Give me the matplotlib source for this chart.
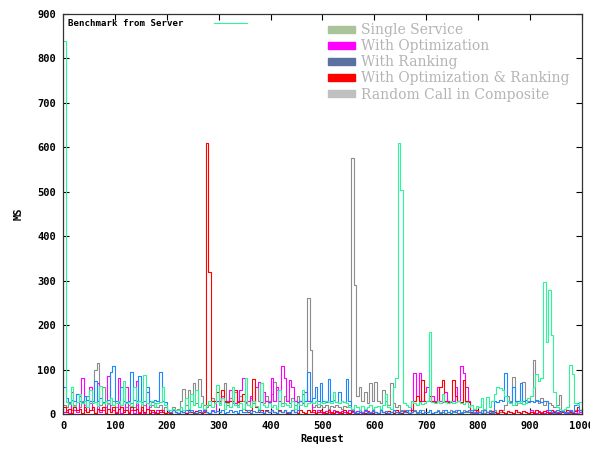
import matplotlib
matplotlib.use("Agg")
import matplotlib.pyplot as plt
import matplotlib.patches as mpatches
import numpy as np

# Response time (MS) per request, every 5 requests (0..1000)
requests = np.arange(0, 1001, 5)

benchmark = [
    840, 28, 22, 60, 18, 28, 45, 25, 30, 15, 55, 25, 28, 18, 62, 25, 30, 22, 35, 20,
    25, 30, 20, 75, 25, 28, 18, 60, 25, 30, 22, 88, 25, 20, 30, 15, 25, 28, 60, 20,
    10, 8, 12, 10, 8, 15, 10, 35, 12, 45, 20, 55, 15, 25, 12, 20, 30, 15, 25, 65,
    20, 35, 12, 25, 15, 60, 20, 15, 25, 12, 80, 20, 15, 30, 18, 12, 70, 20, 15, 25,
    15, 20, 12, 55, 18, 25, 20, 15, 30, 12, 25, 20, 55, 18, 25, 28, 25, 30, 22, 28,
    25, 30, 28, 25, 50, 28, 25, 30, 28, 25, 15, 12, 20, 15, 10, 18, 12, 15, 20, 12,
    15, 18, 12, 20, 45, 15, 12, 60, 80, 610, 505, 25, 20, 15, 30, 25, 20, 28, 22, 25,
    30, 185, 28, 25, 30, 25, 45, 28, 25, 30, 25, 28, 30, 25, 22, 28, 15, 20, 12, 18,
    15, 35, 12, 38, 15, 30, 45, 60, 58, 55, 40, 30, 25, 20, 28, 25, 30, 22, 25, 35,
    40, 60, 90, 75, 80, 297, 163, 279, 178, 50, 15, 12, 10, 12, 15, 110, 90, 25, 20, 28,
    20,
]
ranking = [
    60, 35, 28, 32, 30, 45, 30, 28, 40, 32, 30, 30, 75, 30, 35, 28, 30, 32, 95, 108,
    30, 28, 60, 30, 28, 30, 95, 32, 30, 85, 28, 30, 60, 30, 28, 32, 30, 95, 30, 28,
    10, 5, 8, 5, 3, 6, 5, 8, 5, 10, 5, 3, 8, 5, 6, 5, 3, 8, 5, 6,
    5, 8, 3, 5, 10, 5, 6, 3, 8, 5, 5, 10, 3, 6, 5, 8, 5, 3, 6, 5,
    8, 5, 3, 6, 5, 10, 5, 3, 8, 5, 8, 30, 45, 30, 95, 30, 35, 60, 30, 70,
    30, 28, 78, 30, 32, 28, 50, 30, 28, 78, 30, 10, 5, 3, 8, 5, 6, 3, 5, 8,
    5, 3, 8, 5, 6, 3, 5, 8, 5, 3, 6, 5, 8, 3, 5, 6, 5, 8, 3, 5,
    5, 8, 3, 5, 6, 3, 5, 8, 5, 3, 6, 5, 8, 3, 5, 6, 5, 8, 3, 5,
    5, 3, 8, 5, 6, 3, 30, 28, 32, 30, 93, 30, 28, 60, 30, 30, 70, 30, 32, 28,
    30, 28, 32, 30, 28, 30, 30, 10, 5, 3, 8, 5, 6, 3, 5, 8, 5, 20, 25, 10,
    5,
]
optimization = [
    5, 10, 3, 50, 8, 5, 40, 80, 10, 5, 60, 8, 3, 70, 5, 10, 3, 85, 5, 8,
    5, 80, 3, 10, 60, 5, 8, 3, 75, 5, 10, 3, 50, 8, 5, 3, 10, 5, 8, 3,
    5, 3, 8, 5, 3, 6, 5, 3, 8, 5, 3, 6, 5, 3, 8, 5, 3, 6, 5, 30,
    30, 40, 28, 30, 55, 30, 25, 30, 55, 80, 28, 30, 40, 30, 60, 71, 28, 50, 30, 28,
    80, 30, 60, 30, 108, 80, 30, 77, 60, 30, 28, 30, 25, 50, 30, 28, 5, 3, 8, 5,
    3, 6, 5, 3, 8, 5, 3, 6, 5, 3, 8, 5, 3, 6, 5, 3, 8, 5, 3, 6,
    5, 3, 8, 5, 3, 6, 5, 3, 8, 5, 3, 6, 5, 3, 30, 93, 40, 93, 30, 50,
    61, 30, 40, 30, 61, 30, 28, 50, 30, 28, 30, 60, 30, 108, 93, 60, 30, 5, 8, 3,
    5, 3, 8, 5, 3, 6, 5, 3, 8, 5, 3, 6, 5, 3, 8, 5, 3, 6, 5, 3,
    8, 5, 3, 6, 5, 3, 8, 5, 3, 6, 5, 3, 8, 5, 3, 6, 5, 3, 8, 5,
    3,
]
opt_ranking = [
    15, 5, 12, 3, 15, 8, 12, 3, 15, 5, 10, 15, 3, 12, 8, 15, 3, 12, 5, 15,
    3, 12, 15, 5, 10, 3, 15, 8, 12, 3, 15, 5, 12, 3, 10, 5, 3, 8, 5, 3,
    5, 3, 8, 5, 3, 6, 5, 3, 8, 5, 3, 6, 5, 3, 5, 610, 320, 30, 30, 50,
    30, 54, 30, 28, 30, 30, 54, 28, 30, 45, 10, 5, 8, 78, 15, 5, 10, 3, 10, 5,
    8, 5, 3, 10, 5, 8, 3, 5, 10, 5, 3, 8, 5, 3, 10, 5, 8, 3, 5, 10,
    5, 3, 8, 5, 3, 6, 5, 3, 8, 5, 3, 6, 5, 3, 8, 5, 3, 6, 5, 3,
    5, 3, 8, 5, 3, 6, 5, 3, 8, 5, 3, 6, 5, 3, 8, 30, 40, 30, 77, 30,
    30, 40, 30, 28, 30, 60, 77, 30, 28, 30, 77, 40, 30, 28, 77, 30, 28, 5, 3, 8,
    5, 3, 8, 5, 3, 6, 5, 3, 8, 5, 3, 6, 5, 3, 8, 5, 3, 6, 5, 3,
    5, 3, 8, 5, 3, 6, 5, 3, 8, 5, 3, 6, 5, 3, 8, 5, 3, 6, 15, 10,
    5,
]
random_call = [
    20, 15, 25, 10, 20, 45, 15, 30, 20, 40, 25, 30, 99, 114, 20, 60, 15, 25, 20, 30,
    15, 25, 20, 30, 15, 20, 25, 15, 20, 30, 15, 20, 25, 15, 20, 25, 15, 20, 10, 15,
    10, 8, 15, 10, 12, 30, 56, 20, 54, 30, 70, 25, 79, 40, 20, 15, 20, 35, 25, 30,
    25, 40, 70, 20, 35, 25, 50, 20, 40, 30, 25, 20, 35, 25, 60, 30, 70, 25, 40, 30,
    45, 73, 54, 30, 25, 40, 30, 25, 35, 20, 40, 30, 25, 30, 260, 145, 15, 20, 15, 20,
    15, 20, 12, 18, 15, 20, 15, 12, 18, 15, 20, 575, 290, 40, 60, 30, 50, 25, 70, 30,
    73, 30, 25, 54, 30, 20, 70, 25, 15, 20, 10, 8, 5, 10, 5, 8, 3, 5, 8, 5,
    5, 8, 3, 5, 10, 5, 8, 3, 5, 10, 5, 8, 3, 5, 10, 5, 8, 3, 5, 10,
    5, 8, 3, 5, 10, 5, 8, 3, 5, 10, 20, 40, 30, 84, 20, 30, 25, 73, 25, 30,
    40, 122, 30, 25, 35, 20, 30, 25, 20, 15, 20, 43, 10, 5, 8, 3, 5, 8, 3, 5,
    5,
]

legend_labels = ["Single Service", "With Optimization", "With Ranking",
                 "With Optimization & Ranking", "Random Call in Composite"]
legend_colors = ["#a8c498", "#ff00ff", "#5b6fa0", "#ff0000", "#c0c0c0"]

MONO = "DejaVu Sans Mono"

fig = plt.figure(figsize=(5.9, 4.53), dpi=100)
ax = fig.add_axes([0.1068, 0.0861, 0.8796, 0.8829])

lw = 0.8
ax.plot(requests, random_call, drawstyle="steps-post", color="#8c8c8c", lw=lw)
ax.plot(requests, optimization, drawstyle="steps-post", color="#ff00ff", lw=lw)
ax.plot(requests, opt_ranking, drawstyle="steps-post", color="#ff0000", lw=lw)
ax.plot(requests, ranking, drawstyle="steps-post", color="#1e86ff", lw=lw)
bench_line, = ax.plot(requests, benchmark, drawstyle="steps-post",
                      color="#2cf59a", lw=lw, label="Benchmark from Server")

ax.set_xlim(0, 1000)
ax.set_ylim(0, 900)
ax.set_xticks(np.arange(0, 1001, 100))
ax.set_yticks(np.arange(0, 901, 100))
ax.tick_params(direction="in", top=True, right=True, length=4, width=0.8,
               labelsize=7.5, pad=5)
for lab in ax.get_xticklabels() + ax.get_yticklabels():
    lab.set_fontfamily(MONO)
    lab.set_fontweight("bold")
for sp in ax.spines.values():
    sp.set_linewidth(0.9)
    sp.set_color("#333333")

ax.set_xlabel("Request", fontfamily=MONO, fontweight="bold", fontsize=7.5, labelpad=2)
ax.set_ylabel("MS", fontfamily=MONO, fontweight="bold", fontsize=7.5, labelpad=10)

leg1 = ax.legend(handles=[bench_line], loc="upper left", frameon=False,
                 markerfirst=False, handlelength=3.6, handletextpad=3.3,
                 prop={"family": MONO, "weight": "bold", "size": 6.6},
                 borderaxespad=0.15, bbox_to_anchor=(0.0, 1.0))
ax.add_artist(leg1)

patches = [mpatches.Patch(color=c, label=l) for c, l in zip(legend_colors, legend_labels)]
leg2 = ax.legend(handles=patches, loc="upper left", bbox_to_anchor=(0.503, 0.9875),
                 frameon=False, borderaxespad=0.0, borderpad=0.3,
                 handlelength=1.95, handleheight=0.45,
                 handletextpad=0.4, labelspacing=0.15,
                 prop={"family": "DejaVu Serif", "size": 10})
for t in leg2.get_texts():
    t.set_color("#b4b4b4")

fig.savefig("out.png", dpi=100, facecolor="white")
